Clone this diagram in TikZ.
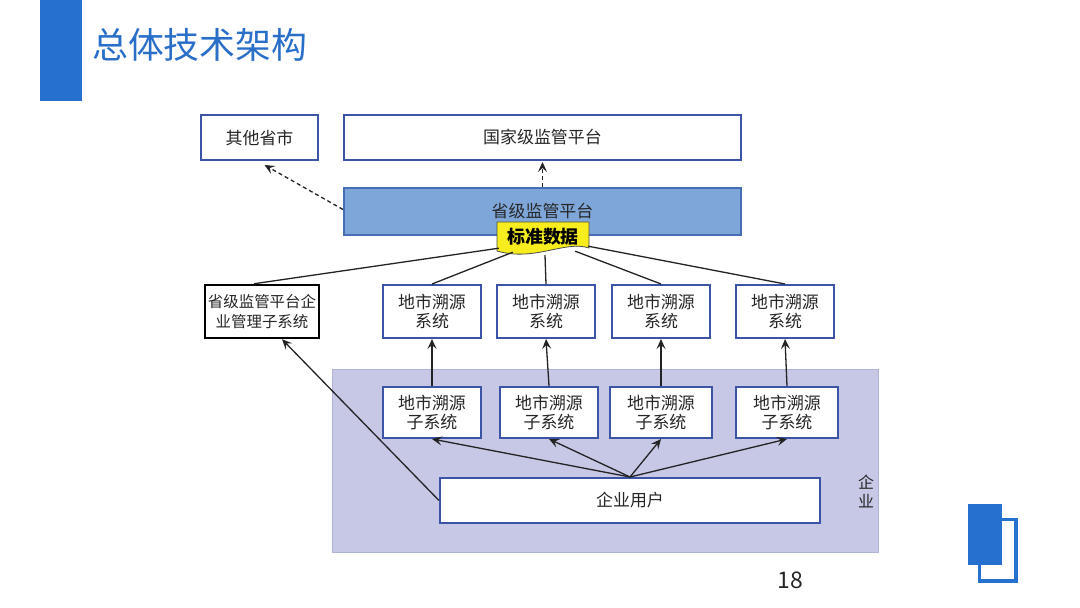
\documentclass[tikz,border=0pt]{standalone}
\usepackage{fontspec}
\setmainfont{Noto Sans CJK SC}
\usetikzlibrary{arrows.meta,calc}
\definecolor{barblue}{RGB}{38,112,208}
\definecolor{titleblue}{RGB}{41,110,200}
\definecolor{boxline}{RGB}{60,84,165}
\definecolor{provfill}{RGB}{126,166,216}
\definecolor{provline}{RGB}{70,110,180}
\definecolor{tagyellow}{RGB}{246,236,30}
\definecolor{entfill}{RGB}{198,200,230}
\definecolor{entline}{RGB}{175,180,215}
\definecolor{linegray}{RGB}{35,35,35}
\tikzset{
  bbox/.style={draw=boxline, line width=2bp, fill=white, inner sep=0pt, align=center, font=\fontsize{17}{20}\selectfont, text=black!85},
  conn/.style={draw=linegray, line width=1.3bp},
  arr/.style={conn, -{Stealth[length=10bp,width=9bp,inset=4bp]}},
  darr/.style={arr, dashed, dash pattern=on 4bp off 3bp}
}
\begin{document}
\begin{tikzpicture}[x=1bp,y=-1bp]
\useasboundingbox (0,0) rectangle (1080,608);
% header
\fill[barblue] (40,0) rectangle (82,101);
\node[anchor=west, text=titleblue, font=\fontsize{36}{42}\selectfont, inner sep=0pt] (title) at (92,45) {总体技术架构};
% enterprise region
\node[draw=entline, fill=entfill, line width=1bp, minimum width=546bp, minimum height=182bp, inner sep=0pt] (ent) at (605,461) {};
\node[align=center, font=\fontsize{16}{19}\selectfont, text=black!85, inner sep=0pt] (entlbl) at (866,491) {企\\业};
% top row
\node[bbox, minimum width=117bp, minimum height=45bp] (other) at (259.5,137.5) {其他省市};
\node[bbox, minimum width=397bp, minimum height=45bp] (nation) at (542.5,137.5) {国家级监管平台};
\node[bbox, draw=provline, fill=provfill, minimum width=397bp, minimum height=47bp] (prov) at (542.5,211.5) {\raisebox{2bp}{省级监管平台}};
% tag
\filldraw[fill=tagyellow, draw=black!70, line width=0.8bp] (497,222) -- (589,222) -- (589,248) .. controls (565,240) and (535,262) .. (497,251) -- cycle;
\node[inner sep=0pt, font=\fontsize{18}{20}\selectfont\bfseries, minimum width=92bp, minimum height=30bp] (tag) at (543,237) {标准数据};
% second row
\node[bbox, draw=black, line width=2.5bp, minimum width=114bp, minimum height=53bp, text width=112bp, font=\fontsize{15.5}{20}\selectfont] (entmgr) at (262,311.5) {省级监管平台企\\业管理子系统};
\node[bbox, minimum width=98bp, minimum height=53bp] (c1) at (432,311.5) {地市溯源\\系统};
\node[bbox, minimum width=98bp, minimum height=53bp] (c2) at (546,311.5) {地市溯源\\系统};
\node[bbox, minimum width=98bp, minimum height=53bp] (c3) at (661,311.5) {地市溯源\\系统};
\node[bbox, minimum width=98bp, minimum height=53bp] (c4) at (785,311.5) {地市溯源\\系统};
% third row
\node[bbox, minimum width=98bp, minimum height=51bp] (s1) at (432,412.5) {地市溯源\\子系统};
\node[bbox, minimum width=98bp, minimum height=51bp] (s2) at (549,412.5) {地市溯源\\子系统};
\node[bbox, minimum width=102bp, minimum height=51bp] (s3) at (661,412.5) {地市溯源\\子系统};
\node[bbox, minimum width=102bp, minimum height=51bp] (s4) at (787,412.5) {地市溯源\\子系统};
% user
\node[bbox, minimum width=380bp, minimum height=45bp] (user) at (630,500.5) {企业用户};
% connectors
\draw[darr] (prov.west) ++(0,-2) coordinate (pw) (pw) -- ($(other.south)+(5,4)$);
\draw[darr] (prov.north) -- ($(nation.south)+(0,1)$);
\draw[conn] ($(tag.south west)+(2,-4)$) -- ($(entmgr.north)+(-8,0)$);
\draw[conn] ($(tag.south west)+(16,0)$) -- (c1.north);
\draw[conn] ($(tag.south)+(2,3)$) -- (c2.north);
\draw[conn] ($(tag.south east)+(-14,-1)$) -- (c3.north);
\draw[conn] ($(tag.south east)+(-1,-6)$) -- (c4.north);
\draw[arr] (s1.north) -- (c1.south);
\draw[arr] (s2.north) -- (c2.south);
\draw[arr] (s3.north) -- (c3.south);
\draw[arr] (s4.north) -- (c4.south);
\draw[arr] (user.north) -- (s1.south);
\draw[arr] (user.north) -- (s2.south);
\draw[arr] (user.north) -- (s3.south);
\draw[arr] (user.north) -- (s4.south);
\draw[arr] (user.west) -- ($(entmgr.south)+(20,0)$);
% page number
\node[font=\fontsize{23}{26}\selectfont, text=black!85, inner sep=0pt] (pnum) at (790,580) {18};
% icon
\draw[draw=barblue, line width=3.5bp] (979.5,519.5) rectangle (1016,581);
\fill[barblue] (968,504) rectangle (1002,565);
\end{tikzpicture}
\end{document}
